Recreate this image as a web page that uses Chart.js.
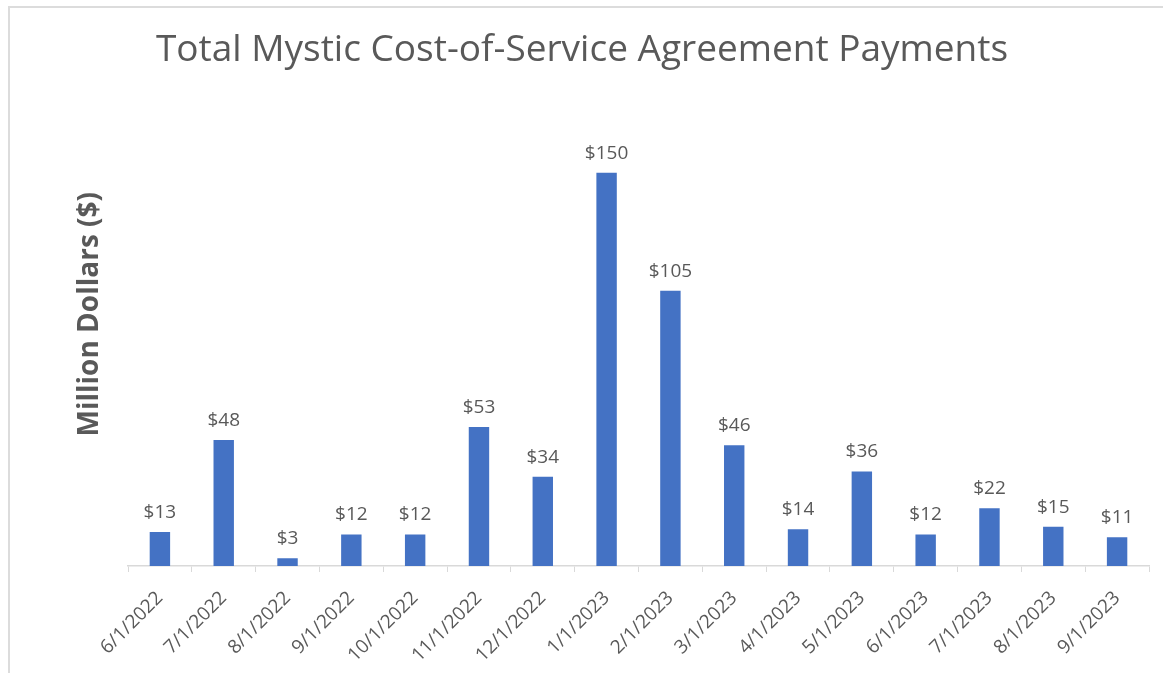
<!DOCTYPE html>
<html>
<head>
<meta charset="utf-8">
<script src="https://cdn.jsdelivr.net/npm/chart.js@4/dist/chart.umd.min.js"></script>
<style>
  html, body { margin: 0; padding: 0; background: #fff; }
  #frame {
    position: absolute; left: 8px; top: 6px; width: 1160px; height: 680px;
    border-top: 2px solid #dcdcdc; border-left: 2px solid #dcdcdc;
  }
  #wrap { position: absolute; left: 0; top: 0; width: 1163px; height: 673px; }
</style>
</head>
<body>
<div id="frame"></div>
<div id="wrap"><canvas id="chart"></canvas></div>
<script>
// Monthly payment dates
const months = [
  '6/1/2022', '7/1/2022', '8/1/2022', '9/1/2022', '10/1/2022', '11/1/2022',
  '12/1/2022', '1/1/2023', '2/1/2023', '3/1/2023', '4/1/2023', '5/1/2023',
  '6/1/2023', '7/1/2023', '8/1/2023', '9/1/2023'
];

// Payments in million dollars
const payments = [13, 48, 3, 12, 12, 53, 34, 150, 105, 46, 14, 36, 12, 22, 15, 11];

const yTitle = 'Million Dollars ($)';
const textGray = '#595959';

// Draw the "$NN" labels over each bar, and the y axis title
const valueLabels = {
  id: 'valueLabels',
  afterDatasetsDraw(chart) {
    const ctx = chart.ctx;
    const meta = chart.getDatasetMeta(0);
    ctx.save();
    ctx.font = '19px "Open Sans", sans-serif';
    ctx.fillStyle = textGray;
    ctx.textAlign = 'center';
    ctx.textBaseline = 'bottom';
    meta.data.forEach((bar, i) => {
      ctx.fillText('$' + payments[i], bar.x, bar.y - 10);
    });

    // y title sits a bit above the middle of the plot, like the original
    const area = chart.chartArea;
    ctx.translate(area.left - 38, (area.top + area.bottom) / 2 - 42);
    ctx.rotate(-Math.PI / 2);
    ctx.font = 'bold 28px "Open Sans", sans-serif';
    ctx.textBaseline = 'middle';
    ctx.fillText(yTitle, 0, 0);
    ctx.restore();
  }
};

new Chart(document.getElementById('chart'), {
  type: 'bar',
  data: {
    labels: months,
    datasets: [{
      data: payments,
      backgroundColor: '#4472c4',
      borderWidth: 0,
      barPercentage: 0.32,
      categoryPercentage: 1
    }]
  },
  options: {
    responsive: true,
    maintainAspectRatio: false,
    animation: false,
    layout: { padding: { left: 15, right: 14, top: 8, bottom: 0 } },
    plugins: {
      legend: { display: false },
      tooltip: { enabled: false },
      title: {
        display: true,
        text: 'Total Mystic Cost-of-Service Agreement Payments',
        color: textGray,
        font: { family: '"Open Sans", sans-serif', size: 37, weight: 'normal' },
        padding: { top: 20, bottom: 74 }
      }
    },
    scales: {
      x: {
        grid: {
          display: true,
          drawOnChartArea: false,
          drawTicks: true,
          tickLength: 6,
          color: '#d9d9d9',
          offset: true
        },
        border: { display: true, color: '#d9d9d9', width: 1.5 },
        ticks: {
          color: textGray,
          font: { family: '"Open Sans", sans-serif', size: 19 },
          maxRotation: 45,
          minRotation: 45,
          padding: 15
        },
        afterFit(scale) { scale.height = 107; }
      },
      y: {
        min: 0,
        max: 160,
        grid: { display: false },
        border: { display: false },
        ticks: { display: false },
        afterFit(scale) { scale.width = 113; }
      }
    }
  },
  plugins: [valueLabels]
});
</script>
</body>
</html>
